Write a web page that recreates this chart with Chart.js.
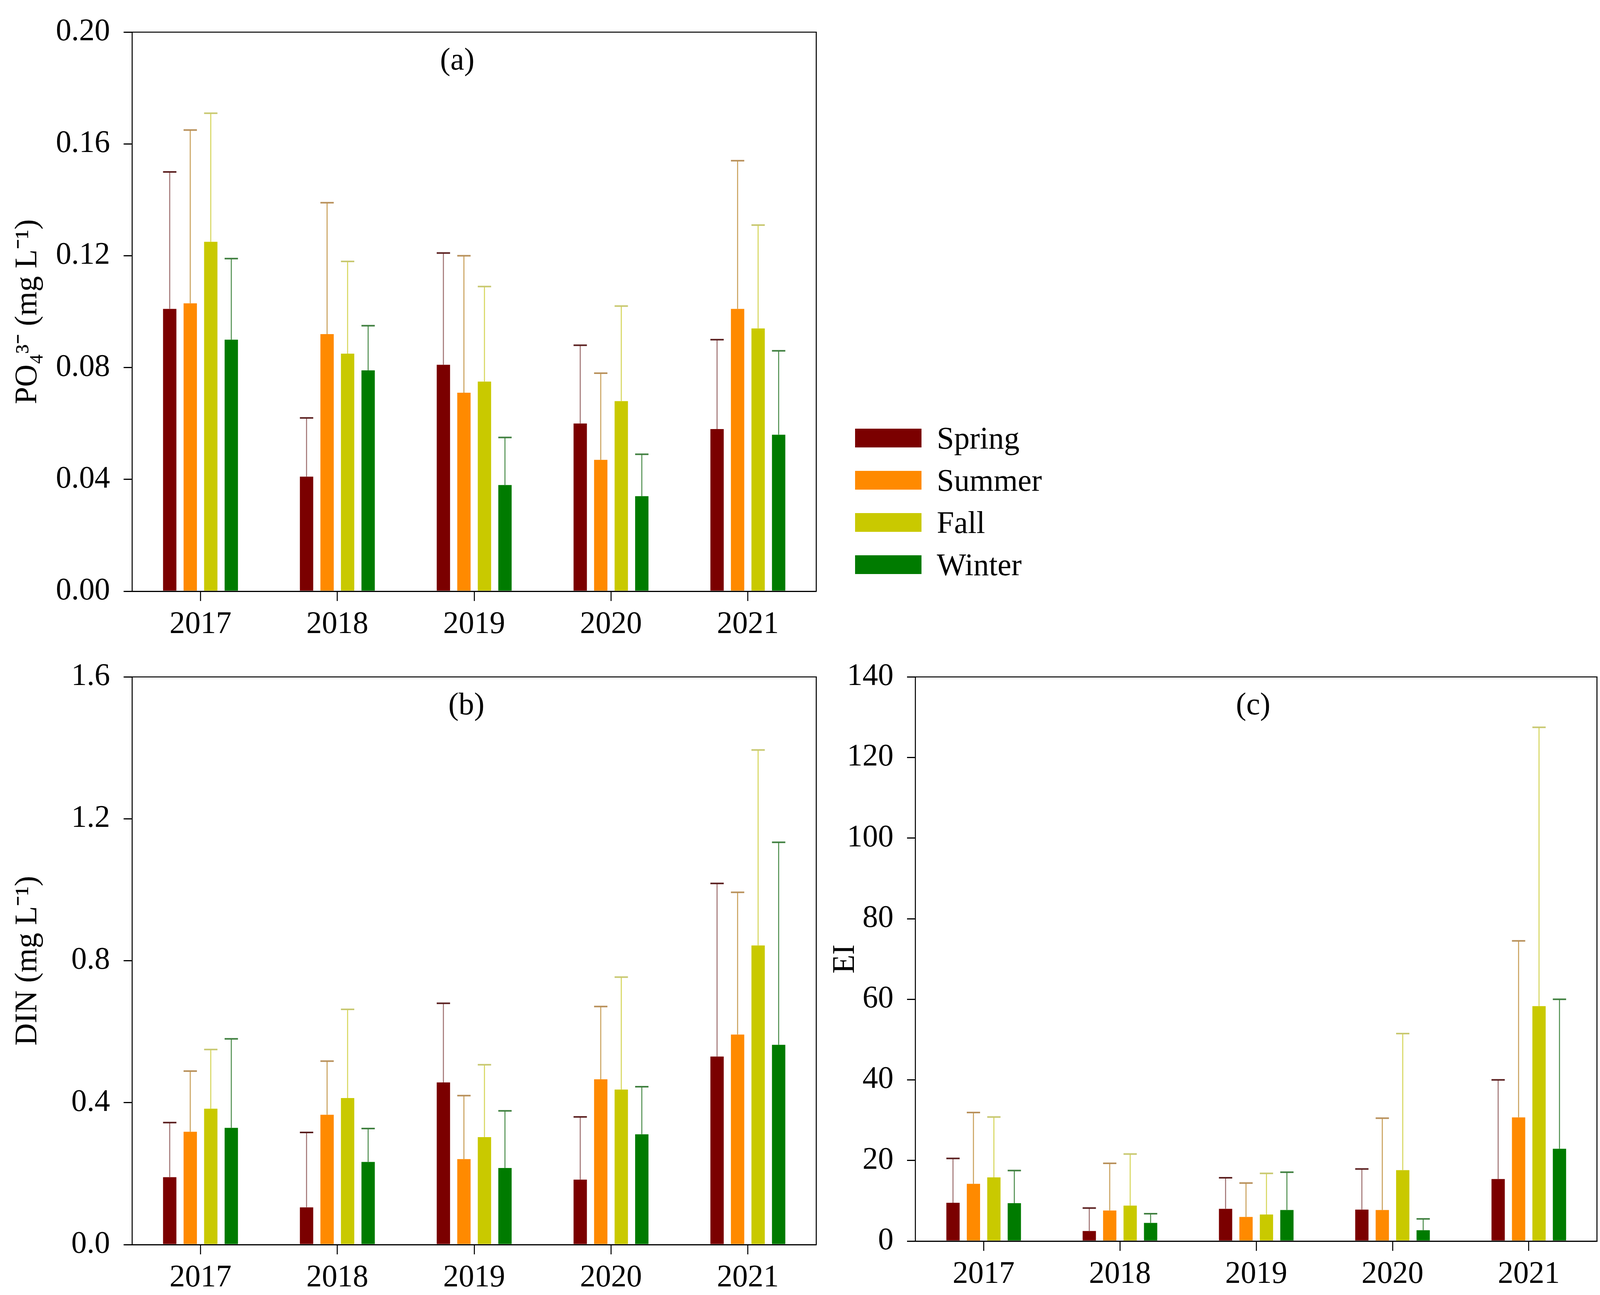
<!DOCTYPE html>
<html>
<head>
<meta charset="utf-8">
<script src="https://cdn.jsdelivr.net/npm/chart.js@4.4.1/dist/chart.umd.min.js"></script>
<style>
  html, body { margin: 0; padding: 0; background: #fff; overflow: hidden; }
  .box { position: absolute; }
  #legend { position: absolute; font-family: "Liberation Serif", serif; }
  .row { display: flex; align-items: center; }
</style>
</head>
<body>
<div class="box" id="boxA"><canvas id="chartA"></canvas></div>
<div class="box" id="boxB"><canvas id="chartB"></canvas></div>
<div class="box" id="boxC"><canvas id="chartC"></canvas></div>
<div id="legend"></div>
<script>
const years = ["2017", "2018", "2019", "2020", "2021"];
const seasons = ["Spring", "Summer", "Fall", "Winter"];
const barColors = ["#7b0000", "#ff8a00", "#c9c900", "#007b00"];
const errColors = ["#a07272", "#c9a05a", "#d6d65a", "#4f8f4f"];
const capColors = ["#5a1e1e", "#b8905a", "#c8c870", "#3f7f3f"];

// (a) PO4 3-, mean and SD
const po4Spring = [0.101, 0.041, 0.081, 0.060, 0.058];
const po4Summer = [0.103, 0.092, 0.071, 0.047, 0.101];
const po4Fall   = [0.125, 0.085, 0.075, 0.068, 0.094];
const po4Winter = [0.090, 0.079, 0.038, 0.034, 0.056];
const po4SpringSd = [0.049, 0.021, 0.040, 0.028, 0.032];
const po4SummerSd = [0.062, 0.047, 0.049, 0.031, 0.053];
const po4FallSd   = [0.046, 0.033, 0.034, 0.034, 0.037];
const po4WinterSd = [0.029, 0.016, 0.017, 0.015, 0.030];

// (b) DIN
const dinSpring = [0.190, 0.105, 0.457, 0.183, 0.530];
const dinSummer = [0.318, 0.366, 0.241, 0.466, 0.592];
const dinFall   = [0.383, 0.413, 0.303, 0.437, 0.843];
const dinWinter = [0.329, 0.233, 0.216, 0.311, 0.563];
const dinSpringSd = [0.154, 0.211, 0.223, 0.177, 0.488];
const dinSummerSd = [0.171, 0.151, 0.179, 0.205, 0.401];
const dinFallSd   = [0.167, 0.250, 0.204, 0.317, 0.551];
const dinWinterSd = [0.251, 0.094, 0.161, 0.134, 0.571];

// (c) EI
const eiSpring = [9.5, 2.5, 8.0, 7.8, 15.4];
const eiSummer = [14.2, 7.6, 6.0, 7.7, 30.7];
const eiFall   = [15.8, 8.8, 6.6, 17.6, 58.3];
const eiWinter = [9.4, 4.5, 7.7, 2.7, 22.9];
const eiSpringSd = [11.0, 5.7, 7.7, 10.1, 24.6];
const eiSummerSd = [17.7, 11.7, 8.4, 22.8, 43.8];
const eiFallSd   = [15.0, 12.8, 10.2, 33.9, 69.2];
const eiWinterSd = [8.1, 2.3, 9.4, 2.8, 37.1];

const FONT = "Liberation Serif";

// layout measured on the 4724 x 3314 figure, stretched to fill the window
const kx = window.innerWidth / 4724;
const ky = window.innerHeight / 3314;
const X = (v) => v * kx;
const Y = (v) => v * ky;
const F = (v) => v * Math.min(kx, ky) * 1.04;

function place(id, l, t, w, h) {
  const el = document.getElementById(id);
  el.style.left = X(l) + "px";
  el.style.top = Y(t) + "px";
  el.style.width = X(w) + "px";
  el.style.height = Y(h) + "px";
}
place("boxA", 0, 0, 2460, 1650);
place("boxB", 0, 1650, 2460, 1664);
place("boxC", 2400, 1650, 2324, 1664);

// upper error bars with a cap
const errorBars = {
  id: "errorBars",
  afterDatasetsDraw(chart) {
    const ctx = chart.ctx;
    const y = chart.scales.y;
    chart.data.datasets.forEach((ds, i) => {
      chart.getDatasetMeta(i).data.forEach((bar, j) => {
        const top = y.getPixelForValue(ds.data[j] + ds.sd[j]);
        const half = bar.width / 2;
        ctx.save();
        ctx.lineWidth = X(3);
        ctx.strokeStyle = errColors[i];
        ctx.beginPath();
        ctx.moveTo(bar.x, bar.y);
        ctx.lineTo(bar.x, top);
        ctx.stroke();
        ctx.lineWidth = Y(4);
        ctx.strokeStyle = capColors[i];
        ctx.beginPath();
        ctx.moveTo(bar.x - half, top);
        ctx.lineTo(bar.x + half, top);
        ctx.stroke();
        ctx.restore();
      });
    });
  }
};

// top/right frame and panel letter
const frame = {
  id: "frame",
  afterDraw(chart, args, opts) {
    const a = chart.chartArea;
    const ctx = chart.ctx;
    ctx.save();
    ctx.strokeStyle = "#000";
    ctx.lineWidth = X(3);
    ctx.beginPath();
    ctx.moveTo(a.left, a.top);
    ctx.lineTo(a.right, a.top);
    ctx.lineTo(a.right, a.bottom);
    ctx.stroke();
    ctx.fillStyle = "#000";
    ctx.font = F(88) + "px '" + FONT + "'";
    ctx.textAlign = "center";
    ctx.textBaseline = "middle";
    ctx.fillText(opts.text, (a.left + a.right) / 2 + X(opts.dx), a.top + Y(75));
    ctx.restore();
  }
};

function makeChart(id, series, sds, W, H, area, yMax, yStep, digits, title, titlePad, letter, dx) {
  return new Chart(document.getElementById(id), {
    type: "bar",
    data: {
      labels: years,
      datasets: seasons.map((s, i) => ({
        label: s,
        data: series[i],
        sd: sds[i],
        backgroundColor: barColors[i],
        borderWidth: 0,
        categoryPercentage: 0.6,
        barPercentage: 0.65,
      })),
    },
    options: {
      responsive: true,
      maintainAspectRatio: false,
      animation: false,
      layout: { padding: { left: 0, top: Y(area.top), right: X(W - area.right), bottom: 0 } },
      plugins: {
        legend: { display: false },
        tooltip: { enabled: false },
        frame: { text: letter, dx: dx },
      },
      scales: {
        x: {
          afterFit: (s) => { s.height = Y(H - area.bottom); },
          grid: { display: true, drawOnChartArea: false, offset: false, drawTicks: true, tickLength: Y(25), color: "#000", lineWidth: X(3) },
          border: { display: true, color: "#000", width: Y(3) },
          ticks: { color: "#000", padding: Y(14), font: { family: FONT, size: F(88) } },
        },
        y: {
          min: 0,
          max: yMax,
          afterFit: (s) => { s.width = X(area.left); },
          grid: { display: true, drawOnChartArea: false, drawTicks: true, tickLength: X(25), color: "#000", lineWidth: Y(3) },
          border: { display: true, color: "#000", width: X(3) },
          ticks: {
            stepSize: yStep,
            color: "#000",
            padding: X(40),
            font: { family: FONT, size: F(88) },
            callback: (v) => Number(v).toFixed(digits),
          },
          title: {
            display: true,
            text: title,
            color: "#000",
            padding: { top: X(titlePad), bottom: 0 },
            font: { family: FONT, size: F(88) },
          },
        },
      },
    },
    plugins: [errorBars, frame],
  });
}

makeChart("chartA",
  [po4Spring, po4Summer, po4Fall, po4Winter],
  [po4SpringSd, po4SummerSd, po4FallSd, po4WinterSd],
  2460, 1650, { left: 390, top: 54, right: 2410, bottom: 1513 },
  0.2, 0.04, 2, "PO\u2084\u00B3\u207B (mg L\u207B\u00B9)", 28, "(a)", -50);

makeChart("chartB",
  [dinSpring, dinSummer, dinFall, dinWinter],
  [dinSpringSd, dinSummerSd, dinFallSd, dinWinterSd],
  2460, 1664, { left: 390, top: 70, right: 2410, bottom: 1535 },
  1.6, 0.4, 1, "DIN (mg L\u207B\u00B9)", 28, "(b)", -23);

makeChart("chartC",
  [eiSpring, eiSummer, eiFall, eiWinter],
  [eiSpringSd, eiSummerSd, eiFallSd, eiWinterSd],
  2324, 1664, { left: 303, top: 79, right: 2315, bottom: 1526 },
  140, 20, 0, "EI", 42, "(c)", -9);

// legend
const legend = document.getElementById("legend");
legend.style.left = X(2525) + "px";
legend.style.top = Y(1067) + "px";
seasons.forEach((s, i) => {
  const row = document.createElement("div");
  row.className = "row";
  row.style.height = Y(108) + "px";
  const sw = document.createElement("div");
  sw.style.width = X(196) + "px";
  sw.style.height = Y(48) + "px";
  sw.style.marginRight = X(45) + "px";
  sw.style.background = barColors[i];
  const t = document.createElement("span");
  t.style.fontSize = F(88) + "px";
  t.style.color = "#000";
  t.textContent = s;
  row.appendChild(sw);
  row.appendChild(t);
  legend.appendChild(row);
});
</script>
</body>
</html>
